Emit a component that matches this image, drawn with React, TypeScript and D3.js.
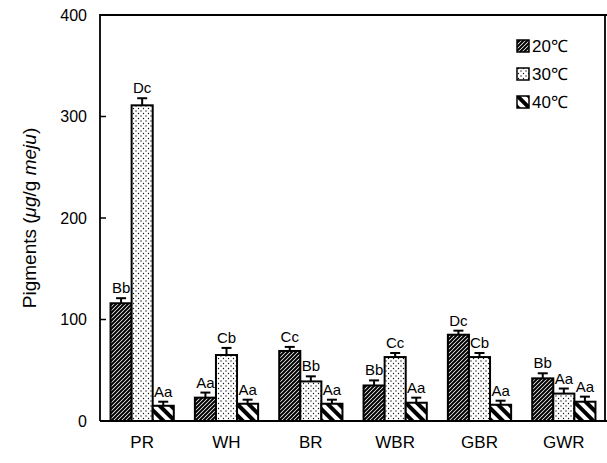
import React, { useEffect, useRef } from 'react';
import * as d3 from 'd3';

const categories = ['PR', 'WH', 'BR', 'WBR', 'GBR', 'GWR'];
const temps = ['20℃', '30℃', '40℃'];
const means20 = [116, 23, 69, 35, 85, 42];
const means30 = [311, 65, 39, 63, 63, 27];
const means40 = [15, 17, 17, 18, 16, 19];
const err20 = [5, 5, 4, 5, 4, 5];
const err30 = [7, 7, 5, 4, 4, 5];
const err40 = [4, 4, 4, 5, 4, 5];
const letters20 = ['Bb', 'Aa', 'Cc', 'Bb', 'Dc', 'Bb'];
const letters30 = ['Dc', 'Cb', 'Bb', 'Cc', 'Cb', 'Aa'];
const letters40 = ['Aa', 'Aa', 'Aa', 'Aa', 'Aa', 'Aa'];
const yTicks = [0, 100, 200, 300, 400];

const FONT = 'Arial, "Liberation Sans", sans-serif';

const App = () => {
  const ref = useRef<SVGSVGElement>(null);

  useEffect(() => {
    const svg = d3.select(ref.current);
    svg.selectAll('*').remove();

    const left = 100, right = 606, top = 15, bottom = 421;
    const x = d3.scaleBand().domain(categories).range([left, right]).paddingInner(0.25).paddingOuter(0.125);
    const xs = d3.scaleBand().domain(temps).range([0, x.bandwidth()]);
    const y = d3.scaleLinear().domain([0, 400]).range([bottom, top]);

    const defs = svg.append('defs');
    // dense hatch for 20℃
    const p20 = defs.append('pattern').attr('id', 'p20').attr('patternUnits', 'userSpaceOnUse')
      .attr('width', 4).attr('height', 4);
    p20.append('rect').attr('width', 4).attr('height', 4).attr('fill', '#fff');
    p20.append('path').attr('d', 'M-1,1 l2,-2 M0,4 l4,-4 M3,5 l2,-2')
      .attr('stroke', '#000').attr('stroke-width', 2);
    // stipple for 30℃
    const p30 = defs.append('pattern').attr('id', 'p30').attr('patternUnits', 'userSpaceOnUse')
      .attr('width', 5).attr('height', 5);
    p30.append('rect').attr('width', 5).attr('height', 5).attr('fill', '#fff');
    p30.append('circle').attr('cx', 1).attr('cy', 1).attr('r', 0.7).attr('fill', '#111');
    p30.append('circle').attr('cx', 3.5).attr('cy', 3.5).attr('r', 0.7).attr('fill', '#111');
    // wide stripes for 40℃
    const p40 = defs.append('pattern').attr('id', 'p40').attr('patternUnits', 'userSpaceOnUse')
      .attr('width', 8).attr('height', 8).attr('patternTransform', 'rotate(-45)');
    p40.append('rect').attr('width', 8).attr('height', 8).attr('fill', '#fff');
    p40.append('rect').attr('width', 4).attr('height', 8).attr('fill', '#000');

    const fills = ['url(#p20)', 'url(#p30)', 'url(#p40)'];
    const means = [means20, means30, means40];
    const errs = [err20, err30, err40];
    const letters = [letters20, letters30, letters40];

    const rows = categories.flatMap((c, i) => temps.map((t, k) => ({
      c, t, k, v: means[k][i], e: errs[k][i], l: letters[k][i],
    })));

    const g = svg.append('g');

    // error bars (upper only) and letters
    rows.forEach(d => {
      const cx = x(d.c)! + xs(d.t)! + xs.bandwidth() / 2;
      g.append('line').attr('x1', cx).attr('x2', cx)
        .attr('y1', y(d.v)).attr('y2', y(d.v + d.e))
        .attr('stroke', '#000').attr('stroke-width', 2);
      g.append('line').attr('x1', cx - 5).attr('x2', cx + 5)
        .attr('y1', y(d.v + d.e)).attr('y2', y(d.v + d.e))
        .attr('stroke', '#000').attr('stroke-width', 2);
      g.append('text').attr('x', cx).attr('y', y(d.v + d.e) - 5)
        .attr('text-anchor', 'middle')
        .style('font-family', FONT)
        .style('font-size', '15px')
        .text(d.l);
    });

    g.selectAll('rect.bar').data(rows).enter().append('rect')
      .attr('class', 'bar')
      .attr('x', d => x(d.c)! + xs(d.t)!)
      .attr('y', d => y(d.v))
      .attr('width', xs.bandwidth())
      .attr('height', d => y(0) - y(d.v))
      .attr('fill', d => fills[d.k])
      .attr('stroke', '#000')
      .attr('stroke-width', 2);

    // frame + axes
    svg.append('path').attr('d', `M${left},${bottom} V${top} H607 M605,${top} V${bottom}`)
      .attr('fill', 'none').attr('stroke', '#000').attr('stroke-width', 1.8);
    svg.append('line').attr('x1', left).attr('x2', 607).attr('y1', bottom).attr('y2', bottom)
      .attr('stroke', '#000').attr('stroke-width', 2.2);

    yTicks.forEach(t => {
      svg.append('line').attr('x1', left).attr('x2', left + 6).attr('y1', y(t)).attr('y2', y(t))
        .attr('stroke', '#000').attr('stroke-width', 1.5);
      svg.append('text').attr('x', 87).attr('y', y(t)).attr('dy', '0.35em')
        .attr('text-anchor', 'end')
        .style('font-family', FONT)
        .style('font-size', '16px')
        .text(t);
    });

    categories.forEach(c => {
      svg.append('text').attr('x', x(c)! + x.bandwidth() / 2).attr('y', 448)
        .attr('text-anchor', 'middle')
        .style('font-family', FONT)
        .style('font-size', '17px')
        .text(c);
    });

    const title = svg.append('text')
      .attr('transform', `translate(36,${(top + bottom) / 2}) rotate(-90)`)
      .attr('text-anchor', 'middle')
      .style('font-family', FONT)
      .style('font-size', '19px');
    title.append('tspan').text('Pigments  (');
    title.append('tspan').style('font-style', 'italic').text('μg');
    title.append('tspan').text('/g ');
    title.append('tspan').style('font-style', 'italic').text('meju');
    title.append('tspan').text(')');

    // legend
    const legY = [46, 74, 102];
    temps.forEach((t, k) => {
      svg.append('rect').attr('x', 517).attr('y', legY[k] - 6).attr('width', 12).attr('height', 12)
        .attr('fill', fills[k]).attr('stroke', '#000').attr('stroke-width', 1.5);
      svg.append('text').attr('x', 532).attr('y', legY[k]).attr('dy', '0.35em')
        .style('font-family', FONT)
        .style('font-size', '17px')
        .text(t);
    });
  }, []);

  return (
    <svg ref={ref} width={607} height={463}
      style={{ position: 'absolute', left: 0, top: 0, background: '#fff' }} />
  );
};

export default App;
